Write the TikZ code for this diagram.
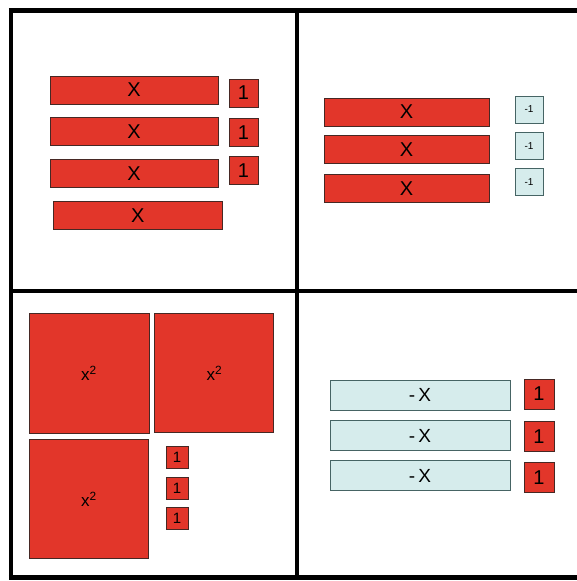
\documentclass[tikz,border=0pt]{standalone}
\usepackage{fontspec}
\setmainfont{Liberation Sans}
\usetikzlibrary{positioning}
\definecolor{tilered}{RGB}{226,54,42}
\definecolor{tilecyan}{RGB}{214,236,236}
\definecolor{tileedge}{RGB}{70,40,36}
\definecolor{cyanedge}{RGB}{70,100,100}

\begin{document}
\begin{tikzpicture}[x=1pt,y=-1pt]
% Styles:
\tikzset{tile/.style={draw=tileedge, line width=0.9pt, inner sep=0pt, text=black}}
\tikzset{xbar/.style={tile, fill=tilered, minimum width=168pt, minimum height=28pt, font=\fontsize{20}{22}\selectfont}}
\tikzset{negbar/.style={xbar, draw=cyanedge, fill=tilecyan, minimum width=180pt, minimum height=30pt, font=\fontsize{19}{22}\selectfont}}
\tikzset{unit/.style={tile, fill=tilered, minimum width=29pt, minimum height=28pt, font=\fontsize{20}{22}\selectfont}}
\tikzset{negunit/.style={tile, draw=cyanedge, fill=tilecyan, minimum width=28pt, minimum height=27pt, font=\fontsize{10}{12}\selectfont}}
\tikzset{xsq/.style={tile, fill=tilered, minimum size=119pt, font=\fontsize{17}{20}\selectfont}}
\tikzset{frame/.style={line width=4.5pt, black}}

\useasboundingbox (0,0) rectangle (577,581);

% Frame:
\draw[frame] (8.75,10.5) -- (577,10.5);
\draw[frame] (8.75,577.5) -- (577,577.5);
\draw[frame] (11,8.25) -- (11,579.75);
\draw[frame] (297,8.25) -- (297,579.75);
\draw[frame] (11,291) -- (577,291);

% Top left: four x and three 1:
\node[xbar] (tlx1) at (134,90) {X};
\node[xbar] (tlx2) [below = 13pt of tlx1] {X};
\node[xbar] (tlx3) [below = 13pt of tlx2] {X};
\node[xbar, minimum width=169pt] (tlx4) [below right = 13pt and -165.5pt of tlx3] {X};
\node[unit] (tlu1) at (243.5,93) {1};
\node[unit] (tlu2) [below = 11pt of tlu1] {1};
\node[unit] (tlu3) [below = 9pt of tlu2] {1};

% Top right: three x and three -1:
\node[xbar, minimum width=165pt] (trx1) at (406.5,112) {X};
\node[xbar, minimum width=165pt] (trx2) [below = 9pt of trx1] {X};
\node[xbar, minimum width=165pt] (trx3) [below = 10pt of trx2] {X};
\node[negunit] (tru1) at (529,109.5) {-1};
\node[negunit] (tru2) [below = 8.5pt of tru1] {-1};
\node[negunit] (tru3) [below = 8pt of tru2] {-1};

% Bottom left: three x^2 and three 1:
\node[xsq, minimum size=120pt] (blq1) at (89,373) {x\textsuperscript{2}};
\node[xsq] (blq2) [right = 5pt of blq1] {x\textsuperscript{2}};
\node[xsq] (blq3) [below = 6pt of blq1] {x\textsuperscript{2}};
\node[unit, minimum width=22pt, minimum height=22pt, font=\fontsize{15}{18}\selectfont] (blu1) at (177,457) {1};
\node[unit, minimum width=22pt, minimum height=22pt, font=\fontsize{15}{18}\selectfont] (blu2) [below = 8.5pt of blu1] {1};
\node[unit, minimum width=22pt, minimum height=22pt, font=\fontsize{15}{18}\selectfont] (blu3) [below = 7.5pt of blu2] {1};

% Bottom right: three -x and three 1:
\node[negbar] (brx1) at (420,395) {-\,X};
\node[negbar] (brx2) [below = 10pt of brx1] {-\,X};
\node[negbar] (brx3) [below = 9pt of brx2] {-\,X};
\node[unit, minimum width=30pt, minimum height=30pt] (bru1) at (539,394) {1};
\node[unit, minimum width=30pt, minimum height=30pt] (bru2) [below = 12pt of bru1] {1};
\node[unit, minimum width=30pt, minimum height=30pt] (bru3) [below = 10pt of bru2] {1};
\end{tikzpicture}
\end{document}
